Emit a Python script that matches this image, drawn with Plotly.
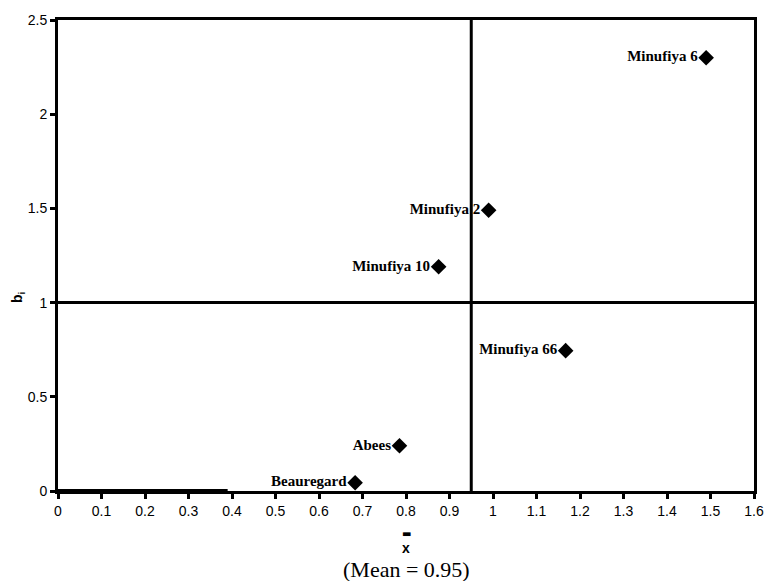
import plotly.graph_objects as go

genotypes = ["Minufiya 6", "Minufiya 2", "Minufiya 10", "Minufiya 66", "Abees", "Beauregard"]
mean_yield = [1.49, 0.99, 0.875, 1.167, 0.785, 0.683]
b_values = [2.30, 1.49, 1.19, 0.745, 0.24, 0.044]
label_pos = ["middle left", "middle left", "middle left", "middle left", "middle left", "middle left"]

grand_mean = 0.95
b_ref = 1.0
x_ticks = [0, 0.1, 0.2, 0.3, 0.4, 0.5, 0.6, 0.7, 0.8, 0.9, 1, 1.1, 1.2, 1.3, 1.4, 1.5, 1.6]
y_ticks = [0, 0.5, 1, 1.5, 2, 2.5]
x_range = [0, 1.6]
y_range = [0, 2.5]
baseline_end = 0.39

W, H, L, R, T, B = 767, 581, 58, 13, 20, 90
ph = H - T - B


def py(pix):
    return (H - B - pix) / ph


fig = go.Figure()
fig.add_trace(go.Scatter(
    x=mean_yield, y=b_values, mode="markers+text",
    text=genotypes, textposition=label_pos,
    textfont=dict(family="Liberation Serif", size=15, color="black", weight="bold"),
    marker=dict(symbol="diamond", size=12, color="black"),
    cliponaxis=True, showlegend=False, hoverinfo="skip",
))

fig.add_shape(type="line", x0=grand_mean, x1=grand_mean, y0=y_range[0], y1=y_range[1],
              xref="x", yref="y", line=dict(color="black", width=3))
fig.add_shape(type="line", x0=x_range[0], x1=x_range[1], y0=b_ref, y1=b_ref,
              xref="x", yref="y", line=dict(color="black", width=3))
fig.add_shape(type="line", x0=x_range[0], x1=baseline_end, y0=0, y1=0,
              xref="x", yref="y", line=dict(color="black", width=4))

tickfont = dict(family="Liberation Sans", size=14, color="black")
axis_style = dict(showgrid=False, zeroline=False, showline=True, linecolor="black", linewidth=3,
                  mirror=True, ticks="outside", ticklen=5, tickwidth=3, tickcolor="black",
                  tickfont=tickfont, automargin=False, fixedrange=True)
fig.update_xaxes(range=x_range, tickvals=x_ticks, ticktext=[f"{v:g}" for v in x_ticks], **axis_style)
fig.update_yaxes(range=y_range, tickvals=y_ticks, ticktext=[f"{v:g}" for v in y_ticks], **axis_style)

fig.add_annotation(text="▬", x=0.5, xref="paper", y=py(533), yref="paper", yanchor="middle",
                   showarrow=False, font=dict(family="DejaVu Sans", size=10, color="black"))
fig.add_annotation(text="<b>x</b>", x=0.5, xref="paper", y=py(548), yref="paper", yanchor="middle",
                   showarrow=False, font=dict(family="Liberation Sans", size=14, color="black"))
fig.add_annotation(text="(Mean = 0.95)", x=0.5, xref="paper", y=py(569), yref="paper",
                   yanchor="middle", showarrow=False,
                   font=dict(family="Liberation Serif", size=22, color="black"))
fig.add_annotation(text="<b>b<sub>i</sub></b>", x=0, xref="paper", y=py(297), yref="paper",
                   xshift=-40, xanchor="center", yanchor="middle", showarrow=False, textangle=-90,
                   font=dict(family="Liberation Sans", size=14, color="black"))

fig.update_layout(width=W, height=H, margin=dict(l=L, r=R, t=T, b=B),
                  plot_bgcolor="white", paper_bgcolor="white")
fig.write_html("out.html", config={"displayModeBar": False})

with open("out.html", "r", encoding="utf-8") as f:
    html = f.read()
html = html.replace("<head>", "<head><style>html,body{margin:0;padding:0;overflow:hidden}</style>", 1)
with open("out.html", "w", encoding="utf-8") as f:
    f.write(html)
